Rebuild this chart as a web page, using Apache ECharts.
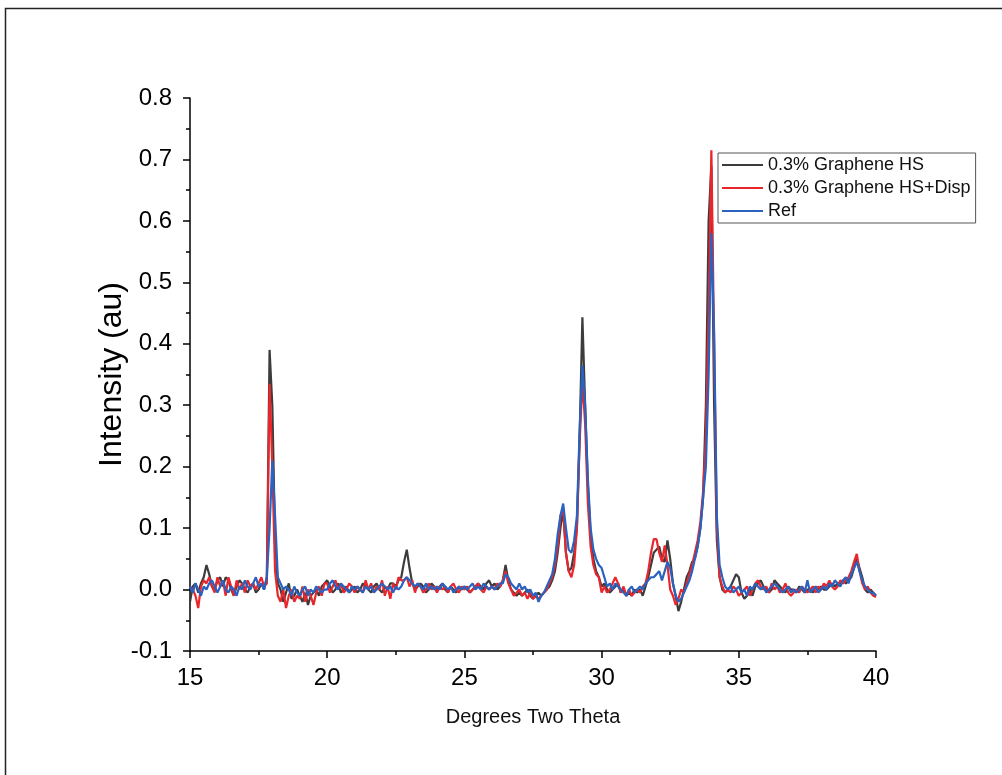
<!DOCTYPE html>
<html>
<head>
<meta charset="utf-8">
<script src="https://cdn.jsdelivr.net/npm/echarts@6/dist/echarts.min.js"></script>
<style>html,body{margin:0;padding:0;background:#fff}#c{width:1002px;height:775px}</style>
</head>
<body>
<div id="c"></div>
<script>
// Sampling grid: 15.0 to 40.0 degrees, 0.1 step
var thetaStart = 15.0;
var thetaStep = 0.1;

var seriesNames = ['0.3% Graphene HS', '0.3% Graphene HS+Disp', 'Ref'];

var hs = [
 -0.02, 0.005, 0.01, -0.005, 0.01, 0.02, 0.04, 0.025, 0.005, 0.0,
 0.015, 0.02, 0.005, 0.02, 0.015, 0.0, -0.01, 0.005, 0.015, 0.01,
 0.0, -0.005, 0.005, 0.01, -0.005, 0.0, 0.01, 0.0, 0.02, 0.39,
 0.30, 0.08, 0.01, 0.0, -0.02, -0.005, 0.01, -0.015, -0.01, 0.0,
 -0.01, -0.02, -0.005, -0.025, -0.01, -0.005, 0.0, -0.01, 0.005, 0.01,
 0.015, 0.005, -0.005, 0.0, 0.01, -0.005, 0.0, 0.005, -0.005, 0.0,
 0.005, -0.005, 0.0, 0.01, 0.005, 0.0, -0.005, 0.005, 0.01, 0.0,
 -0.005, 0.005, 0.0, 0.01, 0.01, 0.005, 0.015, 0.02, 0.045, 0.065,
 0.035, 0.01, 0.0, 0.005, 0.01, 0.005, -0.005, 0.0, 0.01, 0.005,
 0.0, 0.005, 0.01, 0.0, -0.005, 0.005, 0.0, -0.005, 0.005, 0.0,
 0.005, 0.0, -0.005, 0.0, 0.005, 0.01, 0.005, 0.0, 0.01, 0.015,
 0.005, 0.01, 0.0, 0.005, 0.015, 0.04, 0.015, 0.0, -0.005, -0.01,
 -0.005, -0.01, -0.005, 0.0, -0.01, -0.015, -0.01, -0.005, -0.01, -0.005,
 0.0, 0.005, 0.015, 0.03, 0.06, 0.1, 0.13, 0.06, 0.03, 0.035,
 0.06, 0.1, 0.25, 0.443, 0.3, 0.17, 0.09, 0.05, 0.03, 0.02,
 0.005, 0.01, 0.0, -0.005, 0.0, 0.005, 0.01, -0.005, 0.0, -0.01,
 -0.005, -0.01, 0.0, -0.005, 0.0, -0.01, 0.005, 0.02, 0.04, 0.06,
 0.065, 0.07, 0.05, 0.045, 0.08, 0.05, 0.01, -0.01, -0.035, -0.02,
 0.0, 0.02, 0.03, 0.045, 0.05, 0.07, 0.1, 0.15, 0.3, 0.6,
 0.69, 0.3, 0.08, 0.02, 0.0, -0.005, 0.0, 0.005, 0.015, 0.025,
 0.02, -0.005, -0.015, -0.01, 0.0, -0.01, 0.005, 0.01, 0.015, 0.005,
 0.0, -0.005, 0.0, 0.015, 0.01, 0.005, 0.0, -0.005, 0.005, 0.0,
 0.0, -0.005, 0.005, 0.0, -0.005, 0.0, 0.0, -0.005, 0.005, 0.0,
 0.005, 0.0, 0.0, 0.005, 0.01, 0.005, 0.01, 0.01, 0.015, 0.01,
 0.015, 0.02, 0.035, 0.05, 0.035, 0.02, 0.0, -0.005, 0.0, -0.005,
 -0.01
];

var hsDisp = [
 0.005, 0.0, -0.01, -0.03, 0.005, 0.015, 0.01, 0.02, 0.005, -0.005,
 0.02, 0.005, 0.015, -0.01, 0.02, 0.005, -0.01, 0.015, 0.0, 0.01,
 -0.005, 0.015, 0.005, 0.01, 0.0, 0.01, 0.02, 0.005, 0.01, 0.335,
 0.2, 0.03, -0.01, -0.02, 0.0, -0.03, -0.01, 0.0, -0.02, -0.01,
 -0.015, 0.005, -0.02, 0.0, -0.01, -0.025, -0.005, 0.005, -0.01, 0.01,
 0.01, -0.005, 0.005, 0.015, 0.0, 0.01, -0.005, 0.0, 0.01, 0.005,
 -0.005, 0.005, 0.0, -0.005, 0.015, 0.0, 0.01, -0.005, 0.005, 0.0,
 0.015, -0.01, 0.005, -0.015, 0.01, 0.0, 0.02, 0.015, 0.015, 0.02,
 0.005, 0.015, -0.005, 0.01, 0.005, -0.005, 0.0, 0.01, 0.0, 0.005,
 -0.005, 0.005, 0.0, 0.005, -0.005, 0.005, 0.01, 0.0, -0.005, 0.005,
 0.0, 0.005, -0.005, 0.0, 0.005, 0.01, 0.0, -0.005, 0.005, 0.0,
 0.005, 0.0, 0.01, 0.005, 0.015, 0.03, 0.01, 0.0, -0.01, -0.005,
 0.0, -0.01, -0.005, -0.015, -0.005, -0.015, -0.01, -0.015, -0.01, -0.005,
 0.0, 0.01, 0.02, 0.04, 0.07, 0.12, 0.13, 0.06, 0.03, 0.02,
 0.04, 0.1, 0.24, 0.34, 0.27, 0.14, 0.07, 0.04, 0.025, 0.02,
 -0.005, 0.005, -0.005, 0.0, 0.01, 0.02, 0.01, -0.005, 0.005, -0.01,
 0.0, -0.01, -0.005, 0.0, -0.005, 0.005, 0.01, 0.03, 0.06, 0.082,
 0.082, 0.06, 0.045, 0.072, 0.04, 0.0, -0.01, -0.025, -0.015, 0.0,
 -0.005, 0.01, 0.025, 0.04, 0.06, 0.08, 0.11, 0.16, 0.25, 0.45,
 0.715, 0.4, 0.1, 0.02, 0.005, -0.005, 0.0, -0.005, 0.005, 0.0,
 -0.01, -0.005, 0.0, 0.005, -0.01, 0.0, 0.01, 0.015, 0.005, 0.0,
 0.005, -0.005, 0.01, 0.0, 0.005, -0.005, 0.0, 0.01, -0.005, -0.01,
 -0.005, 0.0, -0.005, 0.005, 0.0, -0.005, 0.0, 0.005, -0.005, 0.005,
 0.0, 0.01, 0.005, 0.015, 0.005, 0.0, 0.005, 0.015, 0.01, 0.015,
 0.02, 0.03, 0.045, 0.058, 0.03, 0.01, 0.0, 0.005, -0.005, -0.01,
 -0.012
];

var ref = [
 0.005, -0.005, 0.01, 0.0, -0.01, 0.005, 0.0, 0.01, 0.015, 0.005,
 -0.005, 0.005, 0.015, 0.0, -0.005, 0.005, 0.0, -0.01, 0.005, 0.0,
 0.015, 0.005, 0.0, 0.01, 0.02, 0.005, 0.01, 0.0, 0.02, 0.1,
 0.21, 0.12, 0.02, 0.01, 0.0, 0.005, 0.0, -0.01, 0.005, -0.005,
 -0.01, 0.0, 0.005, -0.01, 0.0, -0.005, 0.005, 0.0, -0.005, 0.0,
 0.0, 0.01, 0.015, 0.005, 0.0, 0.01, 0.005, 0.0, -0.005, 0.005,
 0.0, 0.005, 0.0, -0.005, 0.005, 0.0, 0.005, -0.005, 0.0, 0.005,
 0.01, 0.005, 0.0, 0.005, -0.005, 0.005, 0.0, 0.005, 0.015, 0.02,
 0.015, 0.01, 0.005, 0.01, 0.005, 0.0, 0.01, 0.0, 0.005, 0.0,
 0.005, 0.0, 0.01, 0.005, 0.0, 0.005, -0.005, 0.0, 0.005, 0.0,
 0.005, 0.0, 0.005, 0.01, 0.0, 0.005, 0.0, 0.01, 0.005, 0.0,
 0.005, 0.0, 0.005, 0.01, 0.01, 0.025, 0.02, 0.01, 0.005, 0.0,
 0.01, 0.0, 0.005, -0.005, 0.0, -0.01, -0.005, -0.02, -0.01, -0.005,
 0.005, 0.015, 0.025, 0.05, 0.09, 0.12, 0.14, 0.1, 0.065, 0.06,
 0.08, 0.12, 0.26, 0.365, 0.3, 0.18, 0.1, 0.065, 0.05, 0.04,
 0.035, 0.02, 0.005, 0.01, 0.0, 0.01, 0.005, 0.0, -0.005, -0.01,
 0.0, 0.005, -0.005, 0.0, 0.005, 0.0, 0.01, 0.015, 0.02, 0.02,
 0.025, 0.03, 0.015, 0.03, 0.045, 0.035, 0.01, -0.01, -0.02, -0.015,
 -0.005, 0.005, 0.015, 0.03, 0.05, 0.07, 0.1, 0.15, 0.2, 0.35,
 0.58, 0.42, 0.12, 0.04, 0.02, 0.005, 0.0, 0.005, -0.005, 0.0,
 0.005, -0.005, 0.0, -0.01, 0.005, 0.0, 0.01, 0.005, 0.0, 0.005,
 -0.005, 0.0, 0.005, 0.01, 0.005, 0.0, -0.005, 0.0, 0.005, -0.005,
 0.0, -0.005, 0.0, 0.005, -0.005, 0.015, -0.005, 0.0, 0.005, -0.005,
 0.0, 0.005, 0.0, 0.01, 0.005, 0.015, 0.01, 0.005, 0.015, 0.02,
 0.01, 0.025, 0.035, 0.045, 0.03, 0.015, 0.005, 0.0, -0.005, -0.005,
 -0.01
];

var colors = ['#3c3c3c', '#e8262c', '#2a62c0'];

function pairs(vals) {
  return vals.map(function (v, i) {
    return [+(thetaStart + i * thetaStep).toFixed(2), v];
  });
}

var chart = echarts.init(document.getElementById('c'), null, { renderer: 'canvas' });
var font = 'Liberation Sans, Arial, sans-serif';

var option = {
  backgroundColor: '#ffffff',
  animation: false,
  color: colors,
  grid: { left: 190, right: 126, top: 98, bottom: 124, containLabel: false },
  legend: {
    orient: 'vertical',
    left: 718,
    top: 153,
    padding: [3, 5, 3, 4],
    itemGap: 5,
    itemWidth: 41,
    itemHeight: 2,
    icon: 'rect',
    borderColor: '#555',
    borderWidth: 1,
    borderRadius: 0,
    backgroundColor: '#fff',
    textStyle: { fontFamily: font, fontSize: 18, color: '#111' },
    data: seriesNames
  },
  xAxis: {
    type: 'value',
    min: 15, max: 40, interval: 5,
    name: 'Degrees Two Theta',
    nameLocation: 'middle',
    nameGap: 56,
    nameMoveOverlap: false,
    nameTextStyle: { fontFamily: font, fontSize: 20, color: '#111' },
    axisLine: { show: true, onZero: false, lineStyle: { color: '#000', width: 1.5 } },
    axisTick: { show: true, inside: false, length: 7, lineStyle: { color: '#000', width: 1.5 } },
    minorTick: { show: true, splitNumber: 2, length: 4, lineStyle: { color: '#000', width: 1.5 } },
    axisLabel: { fontFamily: font, fontSize: 24, color: '#000', margin: 15 },
    splitLine: { show: false }
  },
  yAxis: {
    type: 'value',
    min: -0.1, max: 0.8, interval: 0.1,
    name: 'Intensity (au)',
    nameLocation: 'middle',
    nameGap: 62,
    nameRotate: 90,
    nameMoveOverlap: false,
    nameTextStyle: { fontFamily: font, fontSize: 32, color: '#000' },
    axisLine: { show: true, onZero: false, lineStyle: { color: '#000', width: 1.5 } },
    axisTick: { show: true, inside: false, length: 7, lineStyle: { color: '#000', width: 1.5 } },
    minorTick: { show: true, splitNumber: 2, length: 4, lineStyle: { color: '#000', width: 1.5 } },
    axisLabel: {
      fontFamily: font, fontSize: 24, color: '#000', margin: 18,
      formatter: function (v) { return v.toFixed(1); }
    },
    splitLine: { show: false }
  },
  series: [
    { name: seriesNames[0], type: 'line', data: pairs(hs), showSymbol: false, symbol: 'none',
      lineStyle: { width: 2.2, color: colors[0] }, z: 2 },
    { name: seriesNames[1], type: 'line', data: pairs(hsDisp), showSymbol: false, symbol: 'none',
      lineStyle: { width: 2.2, color: colors[1] }, z: 3 },
    { name: seriesNames[2], type: 'line', data: pairs(ref), showSymbol: false, symbol: 'none',
      lineStyle: { width: 2.2, color: colors[2] }, z: 4 }
  ],
  graphic: [{
    type: 'polyline',
    shape: { points: [[5.5, 775], [5.5, 8.5], [1002, 8.5]] },
    style: { stroke: '#222', lineWidth: 1.5, fill: null },
    silent: true
  }]
};
chart.setOption(option);
</script>
</body>
</html>
